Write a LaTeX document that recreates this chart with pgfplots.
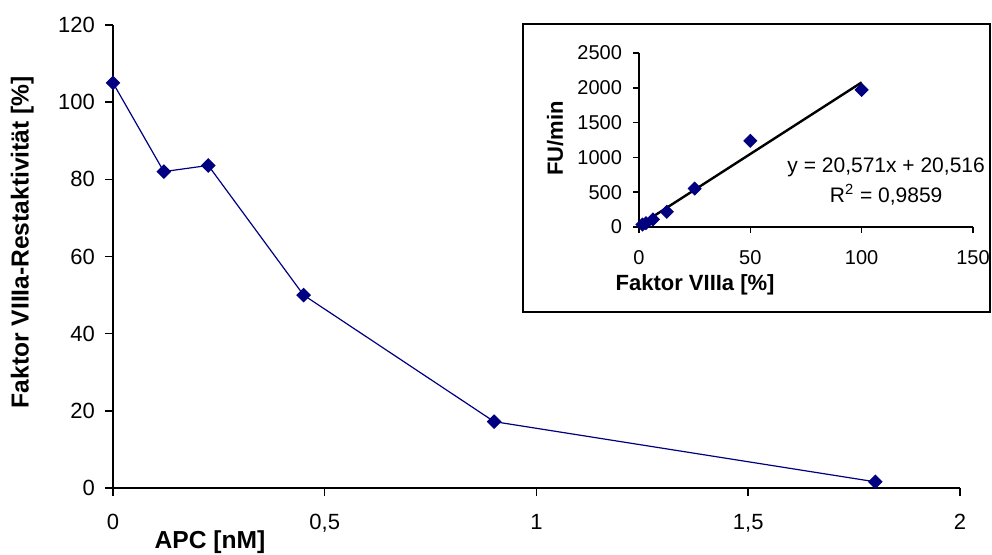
\documentclass[border=0pt]{standalone}
\usepackage{pgfplots}
\pgfplotsset{compat=1.18}
\usepackage{fontspec}
\setmainfont{Liberation Sans}
\definecolor{navy}{RGB}{0,0,128}
\begin{document}
\begin{tikzpicture}
\useasboundingbox (-56.5pt,-33.5pt) rectangle (439.5pt,244pt);
\begin{axis}[
  at={(0,0)}, anchor=south west,
  scale only axis, width=423.5pt, height=231.5pt,
  xmin=0, xmax=2, ymin=0, ymax=120,
  axis lines=left, axis line style={-, line width=0.75pt},
  tick align=outside, major tick length=4pt, tick style={line width=0.75pt, black},
  xtick={0,0.5,1,1.5,2}, ytick={0,20,40,60,80,100,120},
  /pgf/number format/assume math mode=true,
  /pgf/number format/use comma,
  tick label style={font=\fontsize{11}{12}\selectfont},
  x tick label style={yshift=-5.5pt},
  y tick label style={xshift=-1.5pt},
  xlabel={\textbf{APC [nM]}},
  ylabel={\textbf{Faktor VIIIa-Restaktivität [\%]}},
  label style={font=\fontsize{12.3}{13}\selectfont},
  xlabel style={at={(axis description cs:0.1145,-0.1165)}, anchor=center},
  ylabel style={at={(axis description cs:-0.107,0.531)}, anchor=center},
  clip=false,
]
\addplot[navy, line width=0.6pt, mark=square*, mark size=2.3pt, mark options={fill=navy, draw=navy, rotate=45}]
coordinates {(0,105) (0.12,82) (0.225,83.6) (0.45,50) (0.9,17.2) (1.8,1.6)};
\end{axis}
\draw[fill=white, line width=0.75pt] (205pt,88pt) rectangle (438.5pt,232pt);
\begin{axis}[
  at={(263pt,130.5pt)}, anchor=south west,
  scale only axis, width=167pt, height=87pt,
  xmin=0, xmax=150, ymin=0, ymax=2500,
  axis lines=left, axis line style={-, line width=0.75pt},
  tick align=outside, major tick length=3pt, tick style={line width=0.75pt, black},
  xtick={0,50,100,150}, ytick={0,500,1000,1500,2000,2500},
  /pgf/number format/assume math mode=true,
  /pgf/number format/1000 sep={},
  tick label style={font=\fontsize{10}{11}\selectfont},
  x tick label style={yshift=-5pt},
  y tick label style={xshift=-2pt},
  xlabel={\textbf{Faktor VIIIa [\%]}},
  ylabel={\textbf{FU/min}},
  label style={font=\fontsize{11}{12}\selectfont},
  xlabel style={at={(axis description cs:0.168,-0.335)}, anchor=center},
  ylabel style={at={(axis description cs:-0.2515,0.51)}, anchor=center},
  clip=false,
]
\addplot[black, line width=1.2pt] coordinates {(1.5625,52.66) (100,2077.6)};
\addplot[only marks, mark=square*, mark size=2.3pt, mark options={fill=navy, draw=navy, rotate=45}]
coordinates {(1.5625,35) (3.125,55) (6.25,108) (12.5,218) (25,552) (50,1238) (100,1970)};
\node[font=\fontsize{10.5}{11}\selectfont] at (axis cs:111,862) {y = 20,571x + 20,516};
\node[font=\fontsize{10.5}{11}\selectfont] at (axis cs:111,460) {R\textsuperscript{2} = 0,9859};
\end{axis}
\end{tikzpicture}
\end{document}
